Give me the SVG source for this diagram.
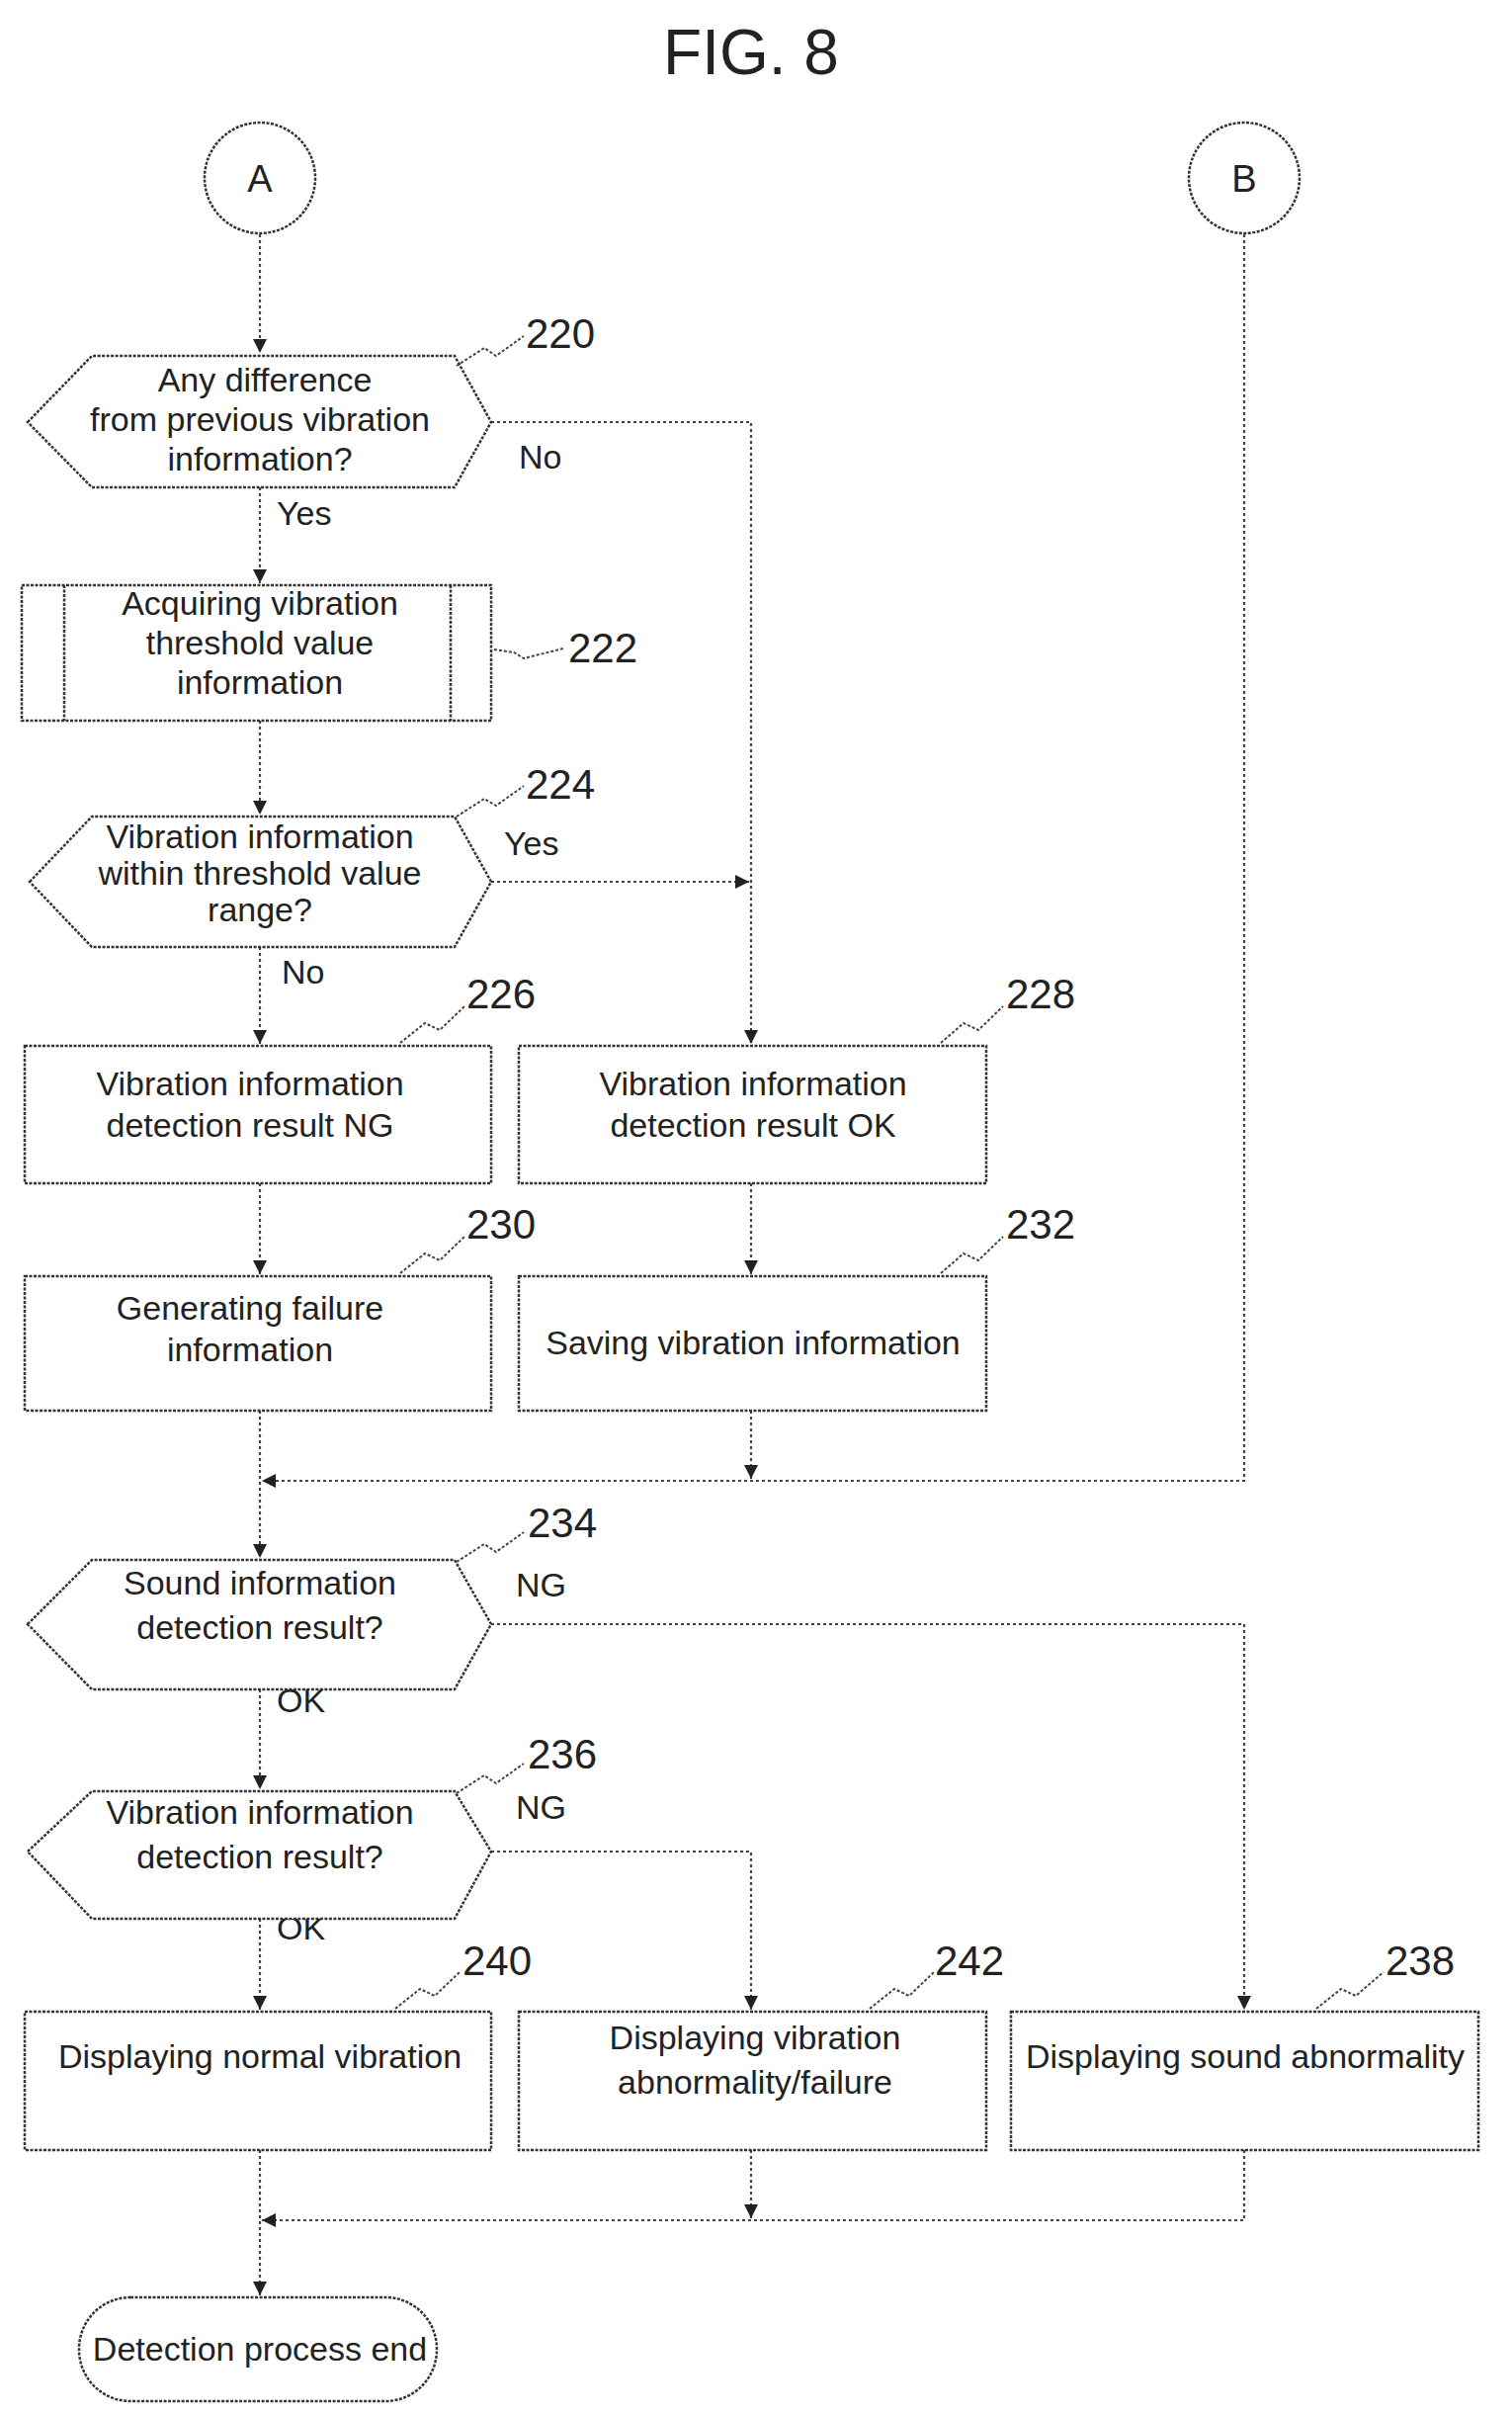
<svg xmlns="http://www.w3.org/2000/svg" width="1530" height="2442" viewBox="0 0 1530 2442">
<style>
.s{fill:#fff;stroke:#333;stroke-width:2.5;stroke-dasharray:3 1.5}
.c{fill:none;stroke:#444;stroke-width:2.2;stroke-dasharray:3 3}
.q{fill:none;stroke:#444;stroke-width:2;stroke-dasharray:3 2}
text{font-family:"Liberation Sans",Arial,sans-serif;fill:#222;font-size:34px;text-anchor:middle}
.n{font-size:42px;text-anchor:start}
.l{text-anchor:start}
</style>
<defs><marker id="a" viewBox="0 0 10 10" refX="10" refY="5" markerWidth="14" markerHeight="14" markerUnits="userSpaceOnUse" orient="auto"><path d="M0,0L10,5L0,10z" fill="#222"/></marker></defs>
<text x="760" y="75" style="font-size:64px">FIG. 8</text>
<g id="connectors">
<path class="c" d="M263,237V357" marker-end="url(#a)"/>
<path class="c" d="M263,493V590" marker-end="url(#a)"/>
<path class="c" d="M497,427H760V1056" marker-end="url(#a)"/>
<path class="c" d="M263,729V824" marker-end="url(#a)"/>
<path class="c" d="M497,892H758" marker-end="url(#a)"/>
<path class="c" d="M263,958V1056" marker-end="url(#a)"/>
<path class="c" d="M263,1197V1289" marker-end="url(#a)"/>
<path class="c" d="M760,1197V1289" marker-end="url(#a)"/>
<path class="c" d="M263,1427V1576" marker-end="url(#a)"/>
<path class="c" d="M760,1427V1496" marker-end="url(#a)"/>
<path class="c" d="M1259,237V1498H265" marker-end="url(#a)"/>
<path class="c" d="M497,1643H1259V2033" marker-end="url(#a)"/>
<path class="c" d="M263,1709V1810" marker-end="url(#a)"/>
<path class="c" d="M497,1873H760V2033" marker-end="url(#a)"/>
<path class="c" d="M263,1941V2033" marker-end="url(#a)"/>
<path class="c" d="M760,2175V2244" marker-end="url(#a)"/>
<path class="c" d="M1259,2175V2246H265" marker-end="url(#a)"/>
<path class="c" d="M263,2175V2322" marker-end="url(#a)"/>
<text x="525" y="474" class="l">No</text>
<text x="280" y="531" class="l">Yes</text>
<text x="510" y="865" class="l">Yes</text>
<text x="285" y="995" class="l">No</text>
<text x="522" y="1615" class="l">NG</text>
<text x="280" y="1732" class="l">OK</text>
<text x="522" y="1840" class="l">NG</text>
<text x="280" y="1962" class="l">OK</text>
</g>
<g id="A"><circle class="s" cx="263" cy="180" r="56"/><text x="263" y="194" style="font-size:38px">A</text></g>
<g id="B"><circle class="s" cx="1259" cy="180" r="56"/><text x="1259" y="194" style="font-size:38px">B</text></g>
<g id="n220"><polygon class="s" points="28,427 93,360 460,360 497,427 460,493 93,493"/>
<text x="268" y="396">Any difference</text><text x="263" y="436">from previous vibration</text><text x="263" y="476">information?</text>
<path class="q" d="M462,370L490,352L502,360L530,340"/><text x="532" y="352" class="n">220</text></g>
<g id="n222"><rect class="s" x="22" y="592" width="475" height="137"/><path class="s" d="M65,592V729M456,592V729"/>
<text x="263" y="622">Acquiring vibration</text><text x="263" y="662">threshold value</text><text x="263" y="702">information</text>
<path class="q" d="M500,657L520,660L530,666L570,656"/><text x="575" y="670" class="n">222</text></g>
<g id="n224"><polygon class="s" points="30,892 93,826 460,826 497,892 460,958 93,958"/>
<text x="263" y="858">Vibration information</text><text x="263" y="895">within threshold value</text><text x="263" y="932">range?</text>
<path class="q" d="M462,826L490,808L502,815L530,795"/><text x="532" y="808" class="n">224</text></g>
<g id="n226"><rect class="s" x="25" y="1058" width="472" height="139"/>
<text x="253" y="1108">Vibration information</text><text x="253" y="1150">detection result NG</text>
<path class="q" d="M405,1055L430,1035L445,1042L470,1018"/><text x="472" y="1020" class="n">226</text></g>
<g id="n228"><rect class="s" x="525" y="1058" width="473" height="139"/>
<text x="762" y="1108">Vibration information</text><text x="762" y="1150">detection result OK</text>
<path class="q" d="M952,1055L975,1035L990,1042L1015,1018"/><text x="1018" y="1020" class="n">228</text></g>
<g id="n230"><rect class="s" x="25" y="1291" width="472" height="136"/>
<text x="253" y="1335">Generating failure</text><text x="253" y="1377">information</text>
<path class="q" d="M405,1288L430,1268L445,1275L470,1251"/><text x="472" y="1253" class="n">230</text></g>
<g id="n232"><rect class="s" x="525" y="1291" width="473" height="136"/>
<text x="762" y="1370">Saving vibration information</text>
<path class="q" d="M952,1288L975,1268L990,1275L1015,1251"/><text x="1018" y="1253" class="n">232</text></g>
<g id="n234"><polygon class="s" points="28,1643 93,1578 460,1578 497,1643 460,1709 93,1709"/>
<text x="263" y="1613">Sound information</text><text x="263" y="1658">detection result?</text>
<path class="q" d="M462,1580L490,1562L502,1570L530,1550"/><text x="534" y="1555" class="n">234</text></g>
<g id="n236"><polygon class="s" points="28,1873 93,1812 460,1812 497,1873 460,1941 93,1941"/>
<text x="263" y="1845">Vibration information</text><text x="263" y="1890">detection result?</text>
<path class="q" d="M462,1814L490,1796L502,1804L530,1784"/><text x="534" y="1789" class="n">236</text></g>
<g id="n240"><rect class="s" x="25" y="2035" width="472" height="140"/>
<text x="263" y="2092">Displaying normal vibration</text>
<path class="q" d="M400,2032L425,2012L440,2019L465,1995"/><text x="468" y="1998" class="n">240</text></g>
<g id="n242"><rect class="s" x="525" y="2035" width="473" height="140"/>
<text x="764" y="2073">Displaying vibration</text><text x="764" y="2118">abnormality/failure</text>
<path class="q" d="M880,2032L905,2012L920,2019L945,1995"/><text x="946" y="1998" class="n">242</text></g>
<g id="n238"><rect class="s" x="1023" y="2035" width="473" height="140"/>
<text x="1260" y="2092">Displaying sound abnormality</text>
<path class="q" d="M1332,2032L1357,2012L1372,2019L1400,1995"/><text x="1402" y="1998" class="n">238</text></g>
<g id="end"><rect class="s" x="80" y="2324" width="362" height="105" rx="52"/>
<text x="263" y="2388">Detection process end</text></g>
</svg>
